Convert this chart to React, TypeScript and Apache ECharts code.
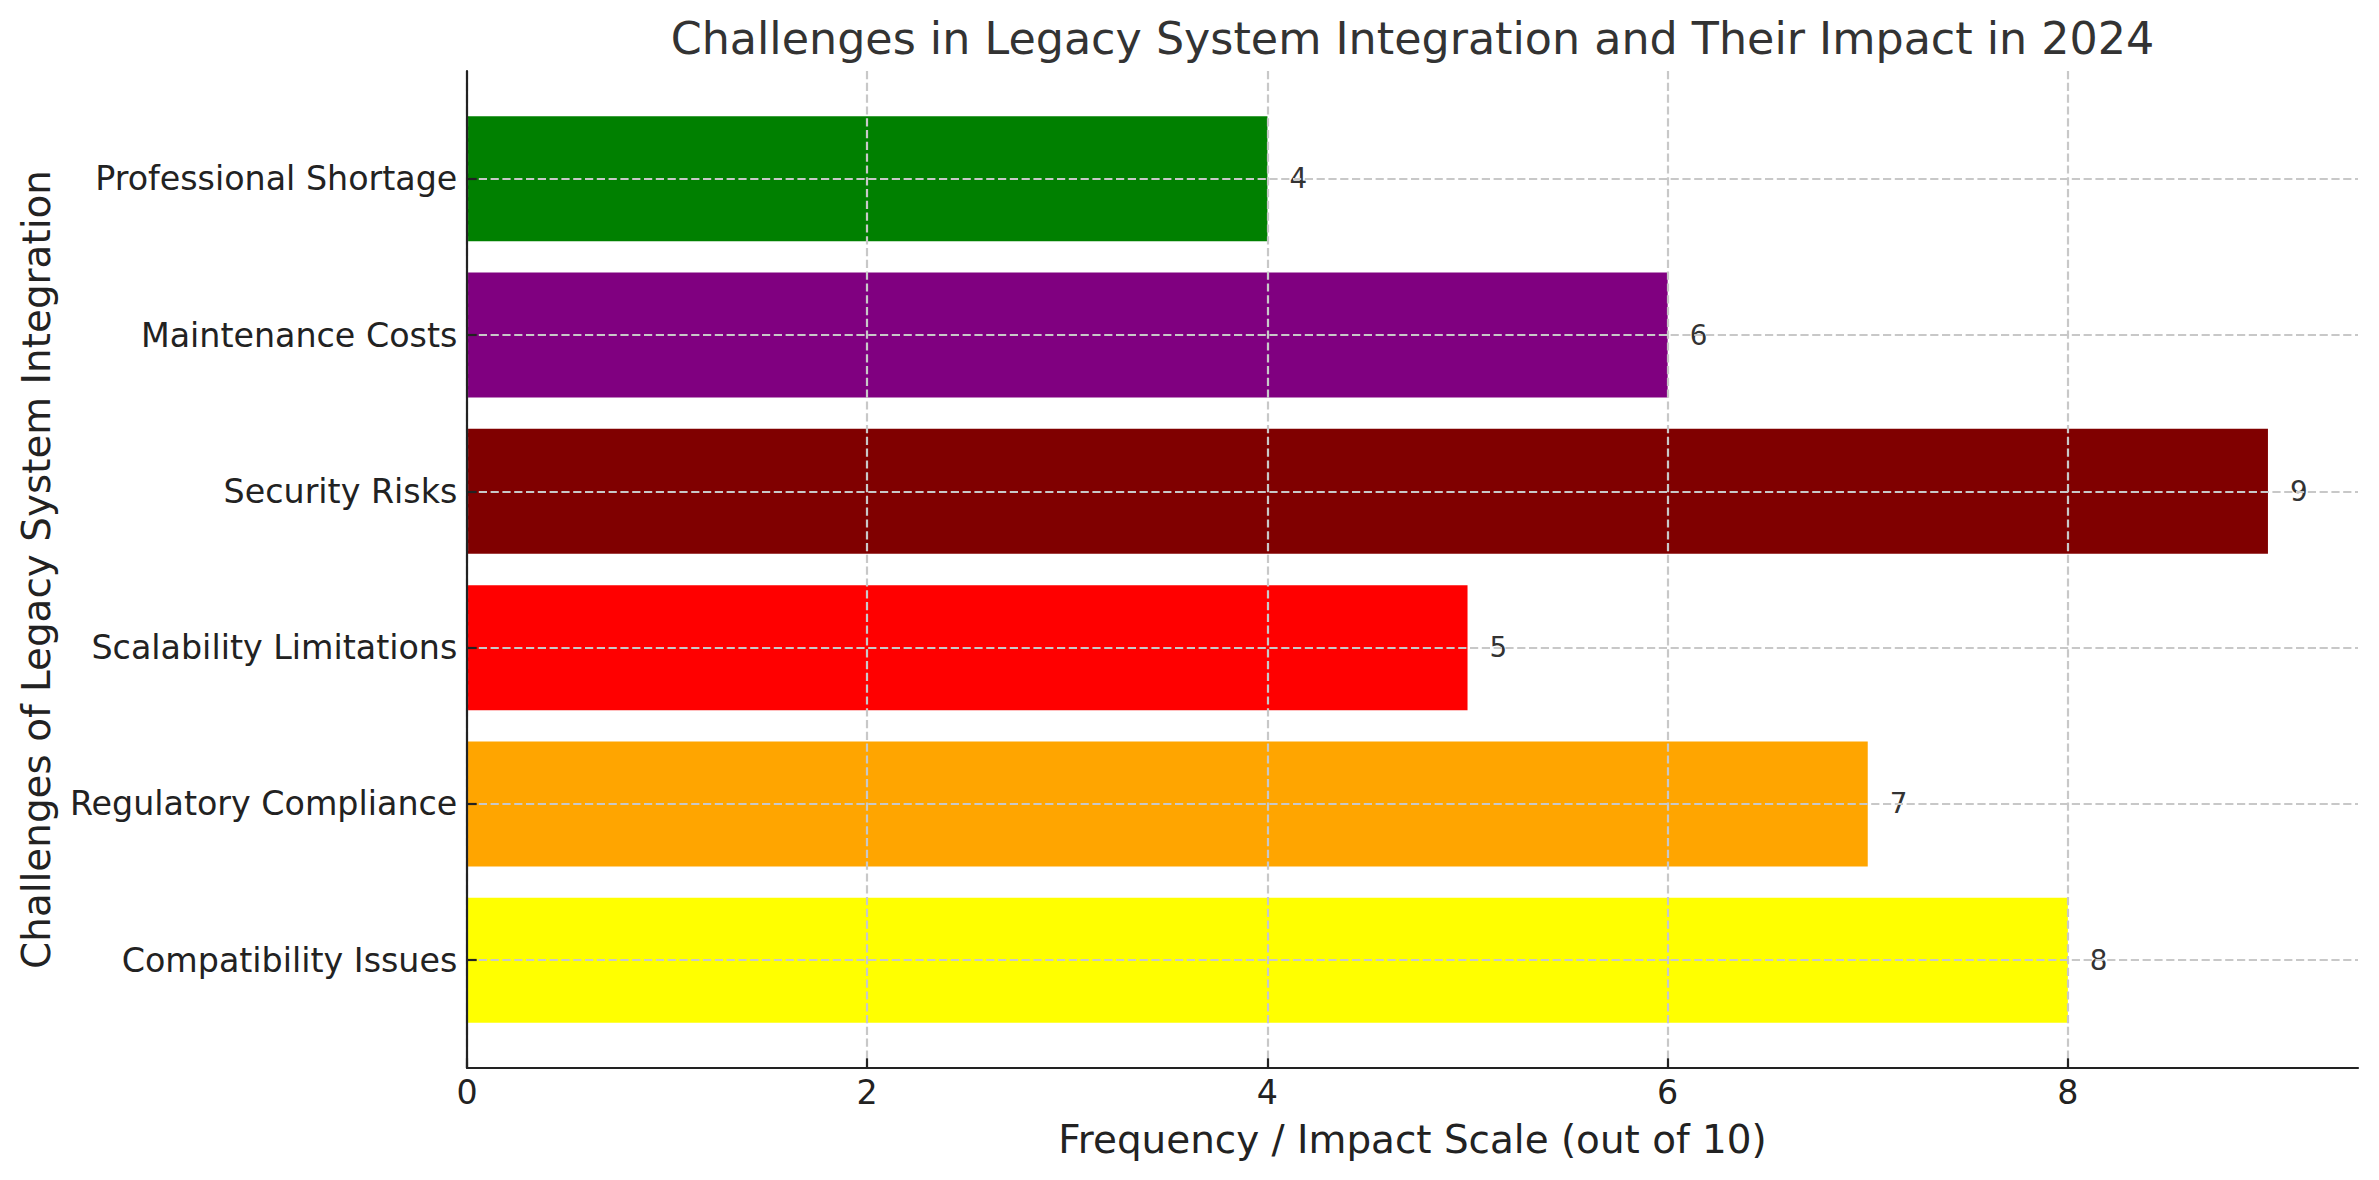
import React, { useEffect, useRef } from 'react';
import * as echarts from 'echarts';

const categories = [
  'Compatibility Issues',
  'Regulatory Compliance',
  'Scalability Limitations',
  'Security Risks',
  'Maintenance Costs',
  'Professional Shortage',
];
const values = [8, 7, 5, 9, 6, 4];
const barColors = ['#ffff00', '#ffa500', '#ff0000', '#800000', '#800080', '#008000'];
const xTicks = [0, 2, 4, 6, 8];
const xMax = 9.45;
const titleText = 'Challenges in Legacy System Integration and Their Impact in 2024';
const xName = 'Frequency / Impact Scale (out of 10)';
const yName = 'Challenges of Legacy System Integration';

const FONT = 'DejaVu Sans';
const W = 2379;
const H = 1180;
const PL = 467, PR = 2358, PT = 71, PB = 1068;
const unitY = (PB - PT) / 6.38;
const bandTop = PB - 6.19 * unitY;
const bandBottom = PB - 0.19 * unitY;

export default function App() {
  const ref = useRef<HTMLDivElement>(null);
  useEffect(() => {
    const chart = echarts.init(ref.current!, null, { renderer: 'svg', width: W, height: H });
    const gridStyle = { color: '#c8c8c8', width: 2.2, type: [8.2, 3.6] as any };
    chart.setOption({
      animation: false,
      backgroundColor: '#ffffff',
      grid: [
        { left: PL, right: W - PR, top: PT, bottom: H - PB, containLabel: false, outerBoundsMode: 'none' },
        { left: PL, right: W - PR, top: bandTop, bottom: H - bandBottom, containLabel: false, outerBoundsMode: 'none' },
      ],
      xAxis: [
        {
          type: 'value', gridIndex: 0, min: 0, max: xMax, interval: 2, z: 10,
          axisLine: { show: true, lineStyle: { color: '#222', width: 2.2 } },
          axisTick: { show: true, inside: true, length: 9.7, lineStyle: { color: '#222', width: 2.2 }, customValues: xTicks },
          axisLabel: { show: true, customValues: xTicks, margin: 8, fontSize: 33.3, fontFamily: FONT, color: '#222' },
          splitLine: { show: true, lineStyle: gridStyle },
        },
        {
          type: 'value', gridIndex: 1, min: 0, max: xMax, show: false,
          splitLine: { show: false },
        },
      ],
      yAxis: [
        {
          type: 'value', gridIndex: 0, min: 0, max: 1, z: 12,
          axisLine: { show: true, lineStyle: { color: '#222', width: 2.2 } },
          axisTick: { show: false }, axisLabel: { show: false }, splitLine: { show: false },
        },
        {
          type: 'category', gridIndex: 1, data: categories, z: 12,
          axisLine: { show: false },
          axisTick: { show: true, inside: true, alignWithLabel: true, length: 9.7, lineStyle: { color: '#222', width: 2.2 } },
          axisLabel: { margin: 9.7, fontSize: 33.3, fontFamily: FONT, color: '#222' },
          splitLine: { show: false },
        },
      ],
      graphic: [
        {
          type: 'text', x: (PL + PR) / 2, y: 38.6, silent: true,
          style: { text: titleText, fontSize: 44.4, fontFamily: FONT, fill: '#333333', align: 'center', verticalAlign: 'middle', textAlign: 'center', textVerticalAlign: 'middle' },
        },
        {
          type: 'text', x: (PL + PR) / 2, y: 1139.5, silent: true,
          style: { text: xName, fontSize: 38.9, fontFamily: FONT, fill: '#222', align: 'center', verticalAlign: 'middle', textAlign: 'center', textVerticalAlign: 'middle' },
        },
        {
          type: 'text', x: 36.5, y: (PT + PB) / 2, rotation: Math.PI / 2, silent: true,
          style: { text: yName, fontSize: 38.9, fontFamily: FONT, fill: '#222', align: 'center', verticalAlign: 'middle', textAlign: 'center', textVerticalAlign: 'middle' },
        },
      ],
      series: [
        {
          type: 'bar', xAxisIndex: 1, yAxisIndex: 1,
          barWidth: '80%',
          data: values.map((v, i) => ({ value: v, itemStyle: { color: barColors[i] } })),
          label: { show: true, position: 'right', distance: 22, fontSize: 27.8, fontFamily: FONT, color: '#333' },
          markLine: {
            silent: true, symbol: 'none', z: 10,
            label: { show: false },
            lineStyle: gridStyle,
            emphasis: { disabled: true },
            data: categories.map((c) => ({ yAxis: c })),
          },
        },
      ],
    });
    return () => chart.dispose();
  }, []);
  return <div ref={ref} style={{ position: 'fixed', left: 0, top: 0, width: W, height: H }} />;
}
